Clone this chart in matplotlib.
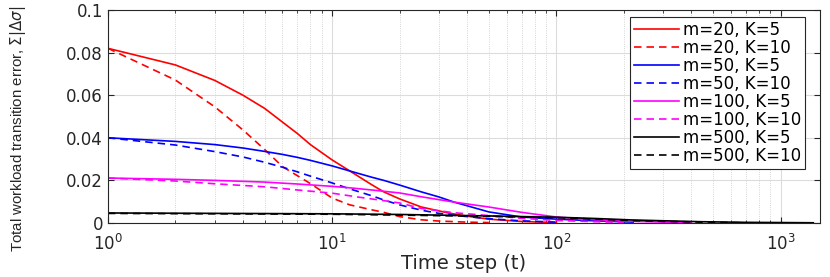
import numpy as np
import matplotlib
matplotlib.use("Agg")
import matplotlib.pyplot as plt
from matplotlib.ticker import LogLocator, NullFormatter

# series (t, value)
t_m20_k5 = [1, 2, 3, 4, 5, 6, 7, 8, 10, 12, 15, 17, 20, 25, 33, 40, 50, 70, 100]
v_m20_k5 = [0.082, 0.0742, 0.0669, 0.060, 0.0538, 0.0474, 0.042, 0.0368, 0.0296, 0.0244,
            0.0180, 0.0146, 0.0113, 0.0075, 0.0047, 0.0032, 0.0018, 0.0007, 0.0002]

t_m20_k10 = [1, 2, 3, 4, 5, 6, 7, 8, 10, 12, 15, 17, 20, 25, 30, 40, 50]
v_m20_k10 = [0.082, 0.0671, 0.0545, 0.0437, 0.0345, 0.0265, 0.0222, 0.0185, 0.0117, 0.0085,
             0.0062, 0.0050, 0.0030, 0.0015, 0.0009, 0.0004, 0.0002]

t_m50_k5 = [1, 2, 3, 4, 5, 6, 7, 8, 10, 12, 15, 17, 20, 25, 30, 35, 50, 70, 100, 150, 220]
v_m50_k5 = [0.040, 0.0383, 0.0368, 0.0352, 0.0336, 0.0322, 0.0308, 0.0294, 0.0268, 0.0244,
            0.0215, 0.0200, 0.0178, 0.0146, 0.0122, 0.0098, 0.0052, 0.0028, 0.0018, 0.0010, 0.0004]

t_m50_k10 = [1, 2, 3, 4, 5, 6, 7, 8, 10, 12, 15, 17, 20, 25, 30, 35, 50, 70, 100]
v_m50_k10 = [0.040, 0.0366, 0.0335, 0.031, 0.0285, 0.0262, 0.0240, 0.0220, 0.0188, 0.0160,
             0.0128, 0.0108, 0.0085, 0.0060, 0.0045, 0.0036, 0.0020, 0.0010, 0.0004]

t_m100_k5 = [1, 2, 3, 5, 7, 10, 12, 15, 20, 25, 35, 50, 70, 100, 150, 200, 300, 400]
v_m100_k5 = [0.0211, 0.0205, 0.0200, 0.0192, 0.0183, 0.0172, 0.0165, 0.0155, 0.0141, 0.0123,
             0.0098, 0.0075, 0.0050, 0.0028, 0.0015, 0.0009, 0.0004, 0.0002]

t_m100_k10 = [1, 2, 3, 5, 7, 10, 13, 17, 20, 25, 35, 50, 70, 100, 150, 200]
v_m100_k10 = [0.0211, 0.0197, 0.0184, 0.0170, 0.0155, 0.0140, 0.0122, 0.0105, 0.0094, 0.0068,
              0.0048, 0.0035, 0.0022, 0.0012, 0.0006, 0.0003]

t_m500_k5 = [1, 10, 20, 50, 100, 150, 220, 440, 700, 1000, 1400]
v_m500_k5 = [0.0047, 0.0043, 0.0040, 0.0033, 0.0027, 0.0021, 0.0014, 0.0006, 0.0003, 0.0002, 0.0001]

t_m500_k10 = [1, 10, 20, 50, 100, 150, 220, 440, 700]
v_m500_k10 = [0.0045, 0.0041, 0.0037, 0.0031, 0.0025, 0.0018, 0.0011, 0.0004, 0.0001]

series = [
    ("m=20, K=5", t_m20_k5, v_m20_k5, "#ff0000", "-"),
    ("m=20, K=10", t_m20_k10, v_m20_k10, "#ff0000", "--"),
    ("m=50, K=5", t_m50_k5, v_m50_k5, "#0000ff", "-"),
    ("m=50, K=10", t_m50_k10, v_m50_k10, "#0000ff", "--"),
    ("m=100, K=5", t_m100_k5, v_m100_k5, "#ff00ff", "-"),
    ("m=100, K=10", t_m100_k10, v_m100_k10, "#ff00ff", "--"),
    ("m=500, K=5", t_m500_k5, v_m500_k5, "#000000", "-"),
    ("m=500, K=10", t_m500_k10, v_m500_k10, "#000000", "--"),
]

plt.rcParams['font.family'] = ['DejaVu Sans']

fig = plt.figure(figsize=(8.3, 2.77), dpi=100)
ax = fig.add_axes([0.130, 0.195, 0.858, 0.769])

for label, t, v, c, ls in series:
    ax.plot(t, v, color=c, linestyle=ls, linewidth=1.2, label=label,
            dashes=(4.5, 3) if ls == "--" else (None, None))

ax.set_xscale("log")
ax.set_xlim(1, 1500)
ax.set_ylim(0, 0.1)
ax.set_yticks([0, 0.02, 0.04, 0.06, 0.08, 0.1])
ax.set_yticklabels(["0", "0.02", "0.04", "0.06", "0.08", "0.1"])
ax.xaxis.set_minor_locator(LogLocator(base=10, subs=np.arange(2, 10), numticks=20))
ax.xaxis.set_minor_formatter(NullFormatter())

ax.grid(True, which="major", color="#dcdcdc", linewidth=0.8, linestyle="-")
ax.grid(True, which="minor", axis="x", color="#c8c8c8", linewidth=0.6, linestyle=":")
ax.set_axisbelow(True)
ax.tick_params(which="both", direction="in", top=True, right=True, labelsize=12,
               colors="#262626", labelcolor="#262626")
ax.tick_params(which="major", length=4)
ax.tick_params(which="minor", length=2.5)
ax.tick_params(axis="x", which="major", pad=8)
for s in ax.spines.values():
    s.set_linewidth(0.8)
    s.set_color("#262626")

ax.set_xlabel("Time step (t)", fontsize=14, labelpad=0, color="#262626")
ax.set_ylabel(r"Total workload transition error, $\Sigma|\Delta\sigma|$",
              fontsize=10.8, family=["Liberation Sans"], color="#262626")
ax.yaxis.set_label_coords(-0.112, 0.44)

leg = ax.legend(loc="upper right", fontsize=12, frameon=True, fancybox=False,
                borderpad=0.25, labelspacing=0.0, handlelength=2.7, handletextpad=0.2,
                borderaxespad=0, bbox_to_anchor=(0.979, 0.967))
leg.get_frame().set_edgecolor("#262626")
leg.get_frame().set_linewidth(0.8)
leg.get_frame().set_alpha(1)

fig.savefig("out.png", dpi=100)
